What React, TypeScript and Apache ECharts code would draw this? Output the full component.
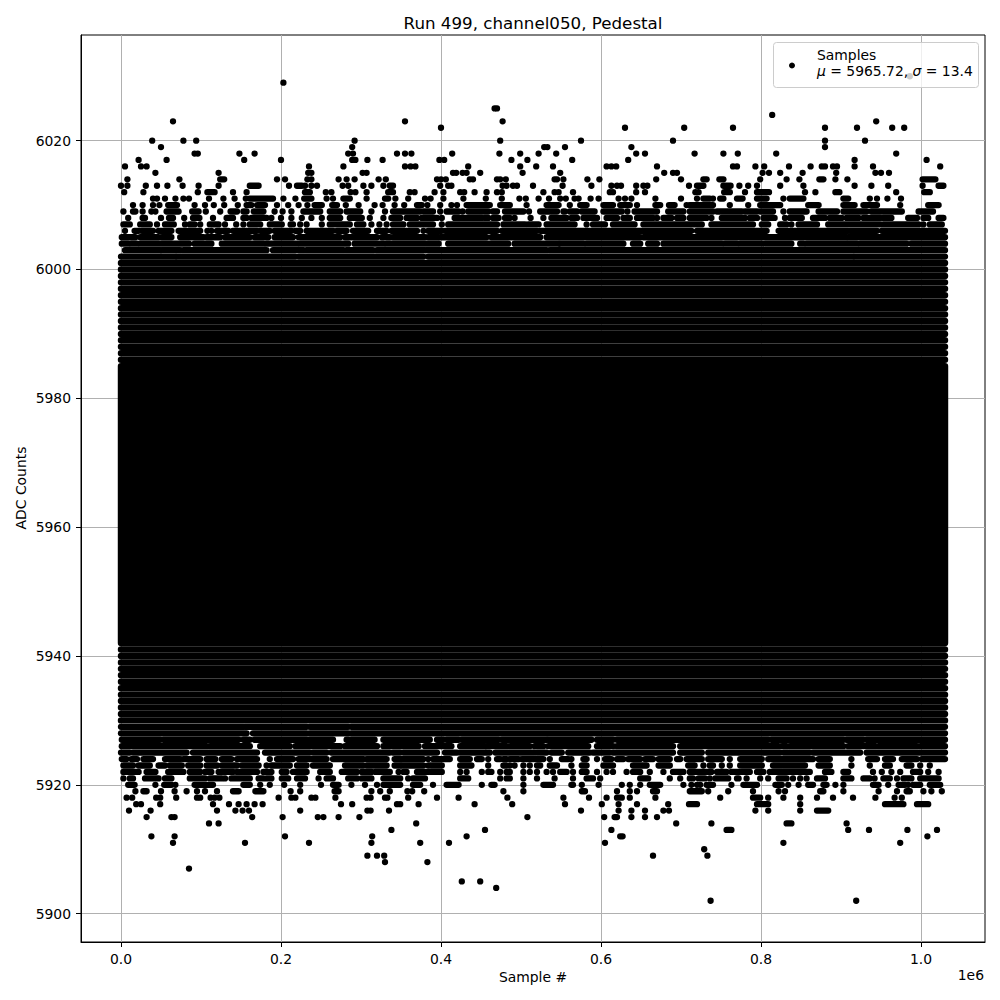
import React, { useEffect, useRef } from "react";
import * as echarts from "echarts";

// ---------- data (x in thousands of samples, y in ADC counts) ----------
const TITLE = "Run 499, channel050, Pedestal";
const X_TICKS = [0, 200, 400, 600, 800, 1000];
const Y_TICKS = [5900, 5920, 5940, 5960, 5980, 6000, 6020];
const X_RANGE = [-50, 1080];
const Y_RANGE = [5895.6, 6036.4];
const SAMPLE_SPAN = [0, 1030];
const CORE_BAND = [5942, 5985];
const DENSE_ROWS = [
  5930, 5931, 5932, 5933, 5934, 5935, 5936, 5937, 5938, 5939, 5940, 5941,
  5986, 5987, 5988, 5989, 5990, 5991, 5992, 5993, 5994, 5995, 5996, 5997, 5998, 5999, 6000, 6001,
];

type Seg = number | [number, number];

const UPPER_FRINGE: [number, Seg[]][] = [
  [6030, [986]],
  [6029, [203]],
  [6025, [467, 470]],
  [6024, [814]],
  [6023, [65, 355, 477, 944]],
  [6022, [400, 630, 704, 765, 880, 920, 964, 979]],
  [6020, [39, 78, 94, 292, 474, 575, 690, 880, 930]],
  [6019, [50, 289, 529, 533, 555, 638, 880]],
  [6018, [92, 96, 148, 167, 284, 290, 345, 355, 363, 414, 473, 499, 522, 544, 644, 655, 717, 753, 771, 819, 969]],
  [6017, [22, 57, 154, 200, 289, 293, 308, 327, 398, 404, 488, 508, 564, 634, 917, 1007]],
  [6016, [5, 25, 32, 235, 278, 355, 362, 368, 434, 499, 519, 540, 607, 613, 619, 670, 765, 770, 793, 804, 835, 862, 876, 880, 890, 895, 917, 940, 1024]],
  [6015, [43, 122, 234, 238, 302, 307, 415, 419, 427, 432, 449, 502, 549, 679, 690, 695, 802, 810, 824, 852, 894, 943, 950, 960]],
  [6014, [8, 73, [124, 129], 195, 205, 233, 238, 272, 282, 292, 322, 331, 395, 400, 406, 436, 440, 470, 474, 481, 542, 545, 553, 583, 598, 669, 700, [728, 732], [748, 753], 799, 832, 848, [873, 878], 893, 908, [1002, 1018]]],
  [6013, [0, 8, 31, 45, 58, 77, 97, 122, [161, 172], 210, [220, 226], 230, 238, 245, 277, 284, 303, 313, 328, [336, 340], 399, 409, 413, 477, 482, 490, 495, 515, 552, 588, 613, 620, 625, 644, 653, 658, 710, [720, 728], [753, 762], 773, 784, 795, 824, 853, 917, 938, 959, 1002, [1022, 1028]]],
  [6012, [4, 28, 96, [108, 117], 140, 157, [230, 236], 256, 263, 287, 293, 307, [334, 340], 361, 367, 392, 403, 424, 429, 442, 457, 470, 476, 528, 542, 547, 565, 611, 615, 644, 655, 718, 722, [754, 761], 780, [795, 810], 855, 868, [893, 898], 969, [1004, 1011]]],
  [6011, [40, 45, 55, 68, 78, 85, 110, 128, 142, 156, [161, 190], 203, 218, [229, 238], 257, 265, [278, 286], 307, [330, 334], 343, 359, 380, 387, 403, 428, 456, 476, 498, 506, 522, 535, 549, 556, 567, 572, 587, 597, 622, 630, 638, 668, 700, 720, [728, 736], 740, [749, 753], [770, 777], [795, 807], 828, [836, 853], [903, 909], 936, 945, 958, 975]],
  [6010, [15, 27, 40, 48, [59, 70], 92, 105, 116, 129, 146, [157, 163], [170, 180], 195, 209, 222, 233, [242, 251], [264, 270], 281, 297, 317, 327, 342, 354, [370, 376], 383, 399, 413, 420, [432, 461], [474, 486], 507, [532, 547], 561, [574, 582], [603, 615], [624, 636], 645, [668, 674], [685, 692], 707, [711, 740], 761, 784, [799, 824], [859, 872], [903, 917], [928, 945], 974, [1009, 1022]]],
  [6009, [3, [15, 18], 27, 38, 43, [57, 72], [89, 97], 106, 124, [137, 145], [153, 157], [166, 178], 192, 202, 213, [228, 249], [261, 274], [282, 299], 313, 330, [340, 374], [378, 390], 399, [407, 422], 427, [434, 459], [465, 470], [480, 503], 510, [524, 545], [553, 555], [561, 570], [576, 592], [603, 626], 633, [642, 670], [684, 703], [711, 740], [745, 776], [780, 795], [799, 815], 828, [836, 857], [872, 895], [903, 932], [938, 976], [997, 1015]]],
  [6008, [9, [27, 30], 50, [60, 65], 79, [90, 98], 115, [132, 140], [153, 157], [163, 182], 188, 200, 213, 226, 238, 251, [261, 274], [286, 301], 311, 328, [338, 349], [357, 370], [376, 395], 401, [417, 451], [455, 459], [465, 472], [480, 486], 492, 512, 528, [538, 557], [563, 570], [578, 595], [607, 620], [628, 636], [645, 665], 670, [678, 688], [695, 703], [711, 732], 738, [751, 780], [786, 795], [803, 817], 830, [836, 851], [865, 880], [886, 901], [907, 922], [928, 949], [953, 963], [984, 995], [1003, 1009], [1022, 1028]]],
  [6007, [[3, 11], [24, 36], 45, [55, 66], 80, [86, 92], 99, [111, 122], 130, 144, 153, [161, 174], [186, 201], [212, 215], 224, 232, 251, [261, 286], [295, 303], 313, 323, 332, [340, 353], [361, 390], 401, [409, 470], [478, 505], [509, 522], [532, 567], 582, [590, 605], [615, 642], [653, 726], [738, 790], [801, 809], [824, 832], 838, [847, 870], [884, 949], [953, 997], 1003, [1011, 1026]]],
  [6006, [5, [17, 22], [26, 40], [47, 63], [72, 99], 108, 113, [120, 134], [140, 170], [174, 186], [192, 213], [218, 224], [232, 265], [270, 282], [290, 309], [320, 332], [338, 370], 378, [384, 401], [405, 470], [476, 520], [524, 713], [720, 807], [822, 909], [911, 945], [951, 1030]]],
  [6005, [[1, 18], [24, 47], [51, 63], [74, 103], [107, 124], [130, 161], [167, 184], [192, 215], [222, 274], [280, 290], [292, 320], [326, 336], [340, 380], [384, 397], [399, 457], [463, 524], [532, 649], [653, 907], [909, 1030]]],
  [6004, [[1, 9], [13, 20], [24, 85], [92, 113], [126, 178], [182, 220], [224, 284], [292, 328], [332, 397], [409, 484], [492, 547], [549, 578], [582, 628], [640, 649], [659, 670], [678, 751], [755, 770], [774, 801], [805, 838], [849, 853], [857, 920], [924, 982], [988, 1030]]],
  [6003, [[5, 49], [51, 74], [78, 182], [190, 228], [232, 278], [282, 315], [320, 380], [382, 532], [536, 1030]]],
  [6002, [[0, 68], [70, 218], [222, 378], [384, 915], [917, 1030]]],
];

const LOWER_FRINGE: [number, Seg[]][] = [
  [5929, [[0, 153], [155, 232], [236, 284], [288, 1030]]],
  [5928, [[0, 157], [165, 232], [236, 284], [288, 1030]]],
  [5927, [[1, 49], [53, 147], [153, 161], [167, 265], [282, 317], [328, 386], [395, 403], [407, 422], [426, 472], [476, 532], [534, 588], [595, 615], [620, 809], [813, 903], [907, 928], [932, 1030]]],
  [5926, [[1, 107], [111, 161], [174, 211], [218, 274], [280, 320], [328, 372], [380, 413], [424, 455], [457, 482], [486, 511], [517, 528], [534, 584], [595, 615], [620, 690], [699, 822], [826, 832], [836, 903], [909, 943], [947, 995], [999, 1030]]],
  [5925, [[0, 11], [15, 82], [90, 170], [180, 236], [240, 257], [263, 336], [340, 349], [353, 395], [405, 420], [424, 461], [468, 517], [520, 532], [538, 551], [559, 586], [590, 611], [615, 690], [699, 726], [734, 824], [828, 861], [865, 924], [932, 1030]]],
  [5924, [[1, 7], [13, 20], [28, 40], [55, 74], [78, 99], [107, 118], [126, 138], [145, 170], 186, [195, 215], [222, 257], [265, 303], [307, 332], [342, 378], 384, [390, 411], [424, 436], [445, 451], 459, [470, 474], [478, 482], [486, 497], [501, 528], 536, [551, 559], 563, [578, 582], 595, [605, 613], [620, 628], [634, 649], [655, 665], [672, 686], [695, 699], [707, 726], [734, 749], 751, 761, [774, 801], [809, 865], [872, 886], 913, [934, 945], [955, 965], [976, 995], [1001, 1030]]],
  [5923, [[3, 15], [22, 36], [47, 55], [61, 76], [84, 99], [107, 120], [126, 145], [151, 172], 182, [188, 211], [220, 232], [240, 261], [280, 303], [307, 332], [342, 349], [351, 378], [384, 401], [424, 438], 459, [478, 482], 486, 492, 503, 511, [520, 524], [536, 545], 563, [576, 582], [603, 615], [640, 657], [672, 686], [709, 717], 728, [736, 740], 751, 761, [774, 801], [815, 855], [872, 886], 913, 936, [955, 961], [982, 988], 999, 1011]],
  [5922, [[3, 22], [32, 43], [59, 78], [86, 99], [105, 113], [122, 140], [145, 170], [178, 188], [201, 207], [215, 232], [249, 261], [276, 295], [301, 313], [318, 336], 347, [353, 357], [370, 384], [388, 401], 424, 432, 451, [459, 463], 474, [482, 486], 503, 511, 520, 532, 540, [549, 557], 565, [576, 582], 595, 607, 615, 632, [640, 649], 661, 678, [690, 703], [711, 738], [745, 757], [763, 772], [776, 786], [795, 803], [811, 826], [828, 861], [880, 888], [903, 909], 940, 951, 963, 974, [990, 999], 1009, 1022]],
  [5921, [3, [11, 15], [30, 47], [55, 63], [86, 105], [111, 126], 130, [138, 161], [172, 178], [182, 188], [201, 209], [220, 230], 247, [257, 265], [284, 295], [301, 313], [328, 349], 359, [365, 380], [424, 434], 474, [482, 486], 503, 520, 542, 565, [582, 590], 599, [649, 659], 686, 699, [711, 715], [722, 730], 736, [743, 759], [770, 772], 782, 799, 809, [822, 832], 840, 849, 857, [870, 880], [903, 913], [928, 936], 942, [953, 961], 970, [978, 988], [999, 1022]]],
  [5920, [[9, 17], 43, [54, 63], 68, [92, 115], [153, 161], 174, 186, 204, 224, 250, [265, 272], 288, 305, 320, [328, 349], [365, 374], 390, [407, 422], 451, [463, 467], 503, [528, 540], [563, 565], 576, 597, 626, 636, 649, [661, 674], 703, 713, 720, 724, [732, 740], 763, [778, 795], [818, 826], 834, 847, [859, 865], [878, 882], 893, 903, [940, 947], 959, [972, 980], 984, [990, 999], [1011, 1024]]],
  [5919, [18, [28, 32], 50, 67, 82, 95, 105, 120, [140, 147], [168, 178], 212, 224, [267, 272], 313, 324, 336, 358, 364, 379, 478, 503, [576, 580], 620, 636, 645, [665, 670], [711, 726], 734, 759, 790, 822, 830, [874, 878], 903, 947, 970, [982, 986], 1003, 1013, 1026]],
  [5918, [7, 14, 44, 49, 69, 95, 99, 112, 117, 123, 197, 213, 218, 238, 243, 268, 307, 312, 330, 333, 359, 395, 422, 483, 553, 585, 607, [620, 626], 636, 668, 749, [790, 799], 809, 828, 849, 870, 890, 915, 943, 967, 976]],
  [5917, [19, 25, 49, 115, 135, 147, 157, 167, 177, 275, 289, 345, 349, 372, 442, 489, 555, 601, 622, 645, 684, [710, 720], [795, 809], 849, [955, 978], [995, 1009]]],
  [5916, [10, 37, 120, 143, 152, 160, 224, 308, 312, 335, 575, 622, 638, 655, 678, 685, 793, 809, 849, [870, 884]]],
  [5915, [32, 63, 67, 164, 202, 246, 253, 272, 298, 508, 604, [617, 620], 638, 655, 670]],
  [5914, [110, 122, 369, 694, 738, [832, 838], 907]],
  [5913, [338, 455, 613, [757, 763], 909, 935, 983, 1020]],
  [5912, [38, 67, 205, 314, 432, [624, 627], 1008]],
  [5911, [65, 155, 235, 313, 374, 410, 605, 828, 974]],
  [5910, [729]],
  [5909, [308, 320, 329, 665, 733]],
  [5908, [330, 383]],
  [5907, [85]],
  [5905, [426, 449]],
  [5904, [469]],
  [5902, [737, 919]],
];

// ---------- build series items [x0, x1, yLow, yHigh] ----------
function rowsToItems(rows: [number, Seg[]][]): number[][] {
  const out: number[][] = [];
  rows.forEach(([lvl, segs]) => {
    segs.forEach((s) => {
      if (Array.isArray(s)) out.push([s[0], s[1], lvl, lvl]);
      else out.push([s, s, lvl, lvl]);
    });
  });
  return out;
}

function buildItems(): number[][] {
  const items: number[][] = [];
  items.push([SAMPLE_SPAN[0], SAMPLE_SPAN[1], CORE_BAND[0], CORE_BAND[1]]);
  DENSE_ROWS.forEach((lvl) => items.push([SAMPLE_SPAN[0], SAMPLE_SPAN[1], lvl, lvl]));
  return items.concat(rowsToItems(UPPER_FRINGE), rowsToItems(LOWER_FRINGE));
}

const FONT = "DejaVu Sans";
const R = 3.15; // marker radius in px
const R_DENSE = 3.22;

export default function App() {
  const ref = useRef<HTMLDivElement>(null);
  useEffect(() => {
    if (!ref.current) return;
    const chart = echarts.init(ref.current, null, { renderer: "svg" });
    const option: any = {
      animation: false,
      backgroundColor: "#ffffff",
      textStyle: { fontFamily: FONT },
      title: {
        text: TITLE,
        left: 528,
        top: 9,
        textAlign: "center",
        textStyle: { fontFamily: FONT, fontSize: 16.7, fontWeight: "normal", color: "#000" },
      },
      grid: {
        left: 81,
        top: 35,
        width: 904,
        height: 907,
        containLabel: false,
        show: true,
        borderColor: "#000",
        borderWidth: 1,
        backgroundColor: "transparent",
      },
      xAxis: {
        type: "value",
        min: X_RANGE[0],
        max: X_RANGE[1],
        axisLine: { show: true, onZero: false, lineStyle: { color: "#000", width: 1 } },
        axisTick: { show: true, length: 5, inside: false, customValues: X_TICKS, lineStyle: { color: "#000", width: 1 } },
        axisLabel: {
          show: true,
          customValues: X_TICKS,
          margin: 10,
          color: "#000",
          fontFamily: FONT,
          fontSize: 13.9,
          formatter: (v: number) => (v / 1000).toFixed(1),
        },
        splitLine: { show: true, lineStyle: { color: "#b0b0b0", width: 1 } },
      },
      yAxis: {
        type: "value",
        min: Y_RANGE[0],
        max: Y_RANGE[1],
        axisLine: { show: true, onZero: false, lineStyle: { color: "#000", width: 1 } },
        axisTick: { show: true, length: 5, inside: false, customValues: Y_TICKS, lineStyle: { color: "#000", width: 1 } },
        axisLabel: {
          show: true,
          customValues: Y_TICKS,
          margin: 10,
          color: "#000",
          fontFamily: FONT,
          fontSize: 13.9,
          formatter: (v: number) => String(Math.round(v)),
        },
        splitLine: { show: true, lineStyle: { color: "#b0b0b0", width: 1 } },
      },
      series: [
        {
          type: "custom",
          name: "Samples",
          coordinateSystem: "cartesian2d",
          silent: true,
          encode: { x: [0, 1], y: [2, 3] },
          data: buildItems(),
          renderItem: (_params: any, api: any) => {
            const x0 = api.value(0);
            const x1 = api.value(1);
            const y0 = api.value(2);
            const y1 = api.value(3);
            const dense = x0 === SAMPLE_SPAN[0] && x1 === SAMPLE_SPAN[1];
            const rr = dense ? R_DENSE : R;
            const a = api.coord([x0, y1]);
            const b = api.coord([x1, y0]);
            return {
              type: "rect",
              shape: {
                x: a[0] - rr,
                y: a[1] - rr,
                width: b[0] - a[0] + 2 * rr,
                height: b[1] - a[1] + 2 * rr,
                r: rr,
              },
              style: { fill: "#000" },
            };
          },
        },
      ],
      graphic: [
        {
          type: "rect",
          z: 100,
          shape: { x: 773.5, y: 42.5, width: 205, height: 45, r: 3 },
          style: { fill: "rgba(255,255,255,0.8)", stroke: "#cccccc", lineWidth: 1 },
        },
        { type: "circle", z: 101, shape: { cx: 792, cy: 65.5, r: 3 }, style: { fill: "#000" } },
        {
          type: "text",
          z: 101,
          x: 817,
          y: 55,
          style: { text: "Samples", fill: "#000", font: `13.9px "${FONT}"`, verticalAlign: "middle", align: "left" },
        },
        {
          type: "text",
          z: 101,
          x: 817,
          y: 71,
          style: {
            text: "{i|μ} = 5965.72, {i|σ} = 13.4",
            fill: "#000",
            font: `13.9px "${FONT}"`,
            verticalAlign: "middle",
            align: "left",
            rich: {
              i: { fontStyle: "italic", fontFamily: FONT, fontSize: 13.9, fill: "#000" },
            },
          },
        },
        {
          type: "text",
          x: 533,
          y: 977,
          style: { text: "Sample #", fill: "#000", font: `13.9px "${FONT}"`, align: "center", verticalAlign: "middle" },
        },
        {
          type: "text",
          x: 984,
          y: 975,
          style: { text: "1e6", fill: "#000", font: `13.9px "${FONT}"`, align: "right", verticalAlign: "middle" },
        },
        {
          type: "text",
          x: 21,
          y: 488,
          rotation: Math.PI / 2,
          style: { text: "ADC Counts", fill: "#000", font: `13.9px "${FONT}"`, align: "center", verticalAlign: "middle" },
        },
      ],
    };
    chart.setOption(option);
    return () => chart.dispose();
  }, []);
  return (
    <div
      ref={ref}
      style={{ position: "fixed", left: 0, top: 0, width: 1000, height: 1000, background: "#fff" }}
    />
  );
}
